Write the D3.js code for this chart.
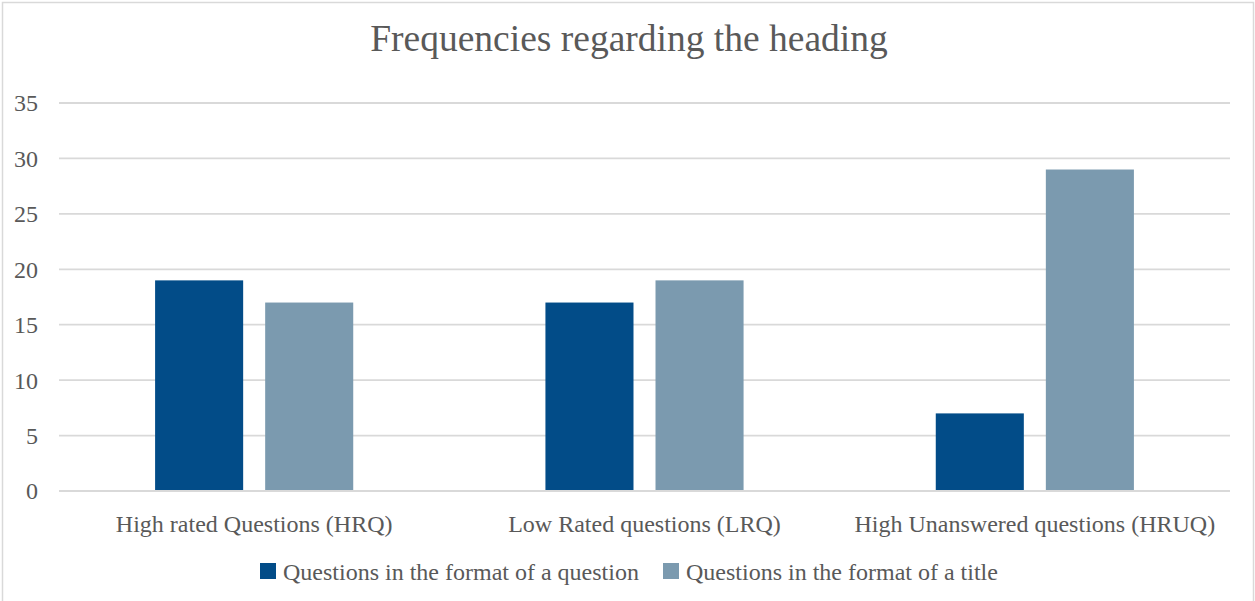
<!DOCTYPE html>
<html>
<head>
<meta charset="utf-8">
<script src="https://cdn.jsdelivr.net/npm/d3@7"></script>
<style>
  body { margin: 0; background: #fff; }
  text { font-family: "Liberation Serif", "Times New Roman", serif; fill: #595959; }
</style>
</head>
<body>
<div id="chart"></div>
<script>
// data
var categories = ["High rated Questions (HRQ)", "Low Rated questions (LRQ)", "High Unanswered questions (HRUQ)"];
var seriesNames = ["Questions in the format of a question", "Questions in the format of a title"];
var questionFormat = [19, 17, 7];
var titleFormat = [17, 19, 29];
var yTicks = [0, 5, 10, 15, 20, 25, 30, 35];
var colors = ["#024c88", "#7b9aaf"];

var W = 1255, H = 601;
var margin = {top: 103, right: 25, bottom: 110, left: 59},
    width = W - margin.left - margin.right,
    height = H - margin.top - margin.bottom;

var data = categories.map(function (c, i) {
    return {cat: c, values: [questionFormat[i], titleFormat[i]]};
});

var svg = d3.select("#chart").append("svg")
    .attr("width", W)
    .attr("height", H);

// outer border
svg.append("rect")
    .attr("x", 2.5).attr("y", 2.5)
    .attr("width", W - 4).attr("height", H + 10)
    .attr("fill", "none")
    .attr("stroke", "#d9d9d9")
    .attr("stroke-width", 1.5);

// title
svg.append("text")
    .attr("x", 629)
    .attr("y", 51)
    .attr("text-anchor", "middle")
    .style("font-size", "37.5px")
    .text("Frequencies regarding the heading");

var g = svg.append("g")
    .attr("transform", "translate(" + margin.left + "," + margin.top + ")");

var y = d3.scaleLinear().domain([0, 35]).range([height, 0]);

var x0 = d3.scaleBand()
    .domain(categories)
    .range([0, width])
    .padding(0);

var x1 = d3.scaleBand()
    .domain(d3.range(seriesNames.length))
    .range([0, x0.bandwidth()])
    .paddingInner(0.2)
    .paddingOuter(0.873);

// gridlines
g.append("g").selectAll("line")
    .data(yTicks)
    .enter().append("line")
    .attr("x1", 0).attr("x2", width)
    .attr("y1", function (d) { return y(d); })
    .attr("y2", function (d) { return y(d); })
    .attr("stroke", "#d9d9d9")
    .attr("stroke-width", 1.8);

// y tick labels
g.append("g").selectAll("text")
    .data(yTicks)
    .enter().append("text")
    .attr("x", -21)
    .attr("y", function (d) { return y(d); })
    .attr("dy", "0.35em")
    .attr("text-anchor", "end")
    .style("font-size", "24px")
    .text(function (d) { return d; });

// bars
var groups = g.append("g").selectAll("g")
    .data(data)
    .enter().append("g")
    .attr("transform", function (d) { return "translate(" + x0(d.cat) + ",0)"; });

groups.selectAll("rect")
    .data(function (d) { return d.values; })
    .enter().append("rect")
    .attr("x", function (d, i) { return x1(i); })
    .attr("y", function (d) { return y(d); })
    .attr("width", x1.bandwidth())
    .attr("height", function (d) { return y(0) - y(d) - 1; })
    .attr("fill", function (d, i) { return colors[i]; });

// category labels
g.append("g").selectAll("text")
    .data(categories)
    .enter().append("text")
    .attr("x", function (d) { return x0(d) + x0.bandwidth() / 2; })
    .attr("y", height + 41)
    .attr("text-anchor", "middle")
    .style("font-size", "24px")
    .text(function (d) { return d; });

// legend
var legendX = [260, 663];
var legend = svg.append("g").selectAll("g")
    .data(seriesNames)
    .enter().append("g")
    .attr("transform", function (d, i) { return "translate(" + legendX[i] + ",563)"; });

legend.append("rect")
    .attr("width", 16).attr("height", 16)
    .attr("fill", function (d, i) { return colors[i]; });

legend.append("text")
    .attr("x", 23)
    .attr("y", 17)
    .style("font-size", "24px")
    .text(function (d) { return d; });
</script>
</body>
</html>
